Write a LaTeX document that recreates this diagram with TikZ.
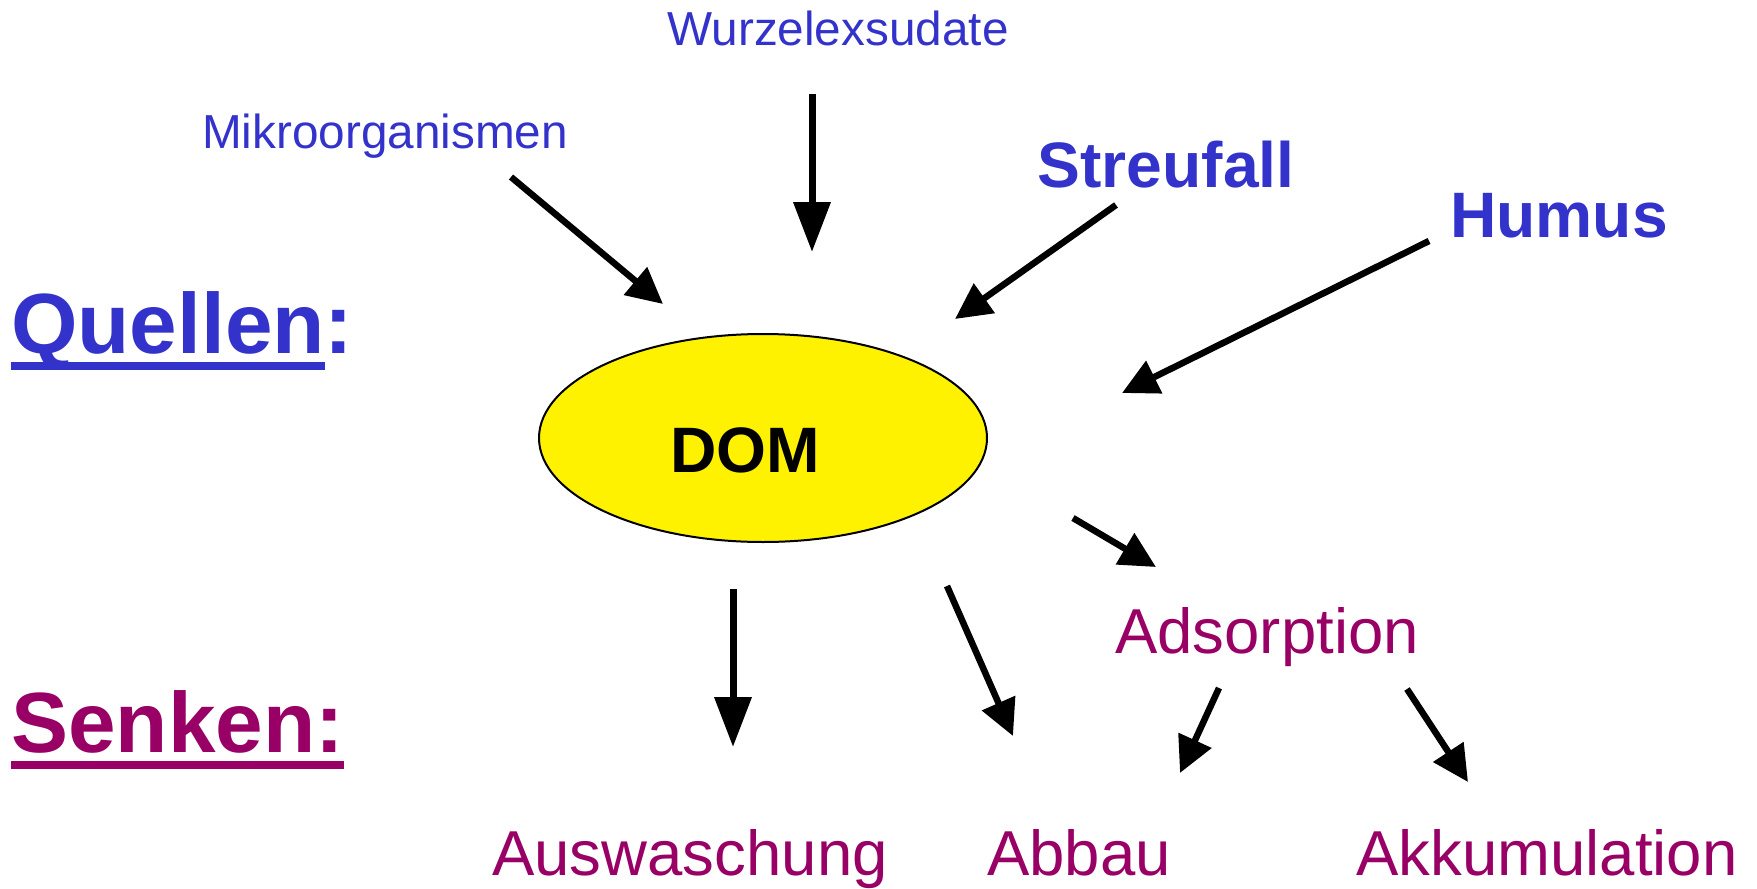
\documentclass[tikz,border=0pt]{standalone}
\usepackage{fontspec}
\setmainfont{Liberation Sans}
\usetikzlibrary{arrows.meta}
\usetikzlibrary{shapes.geometric}
\definecolor{qblue}{HTML}{3333CC}
\definecolor{spurple}{HTML}{990066}
\tikzset{arr/.style = {line width=6.5pt, -{Triangle[length=36pt, width=35pt]}},
         arrlong/.style = {line width=7pt, -{Triangle[length=50pt, width=36pt]}},
         txt/.style = {inner sep=0pt, anchor=base}}
\newcommand{\dickunter}[1]{\setbox0\hbox{#1}\rlap{\rule[-17pt]{\wd0}{8pt}}\box0}
\newcommand{\klein}{\fontsize{47.7}{56}\selectfont}
\newcommand{\mittel}{\fontsize{63.5}{75}\selectfont}
\newcommand{\mittelfett}{\fontsize{64.2}{75}\selectfont\bfseries}
\newcommand{\gross}{\fontsize{85.5}{100}\selectfont\bfseries}

\begin{document}
\begin{tikzpicture}[x=1pt, y=-1pt]
      \useasboundingbox (0, 0) rectangle (1757, 889);

      \node [ellipse, draw, line width=2pt, fill=yellow, minimum width=448pt, minimum height=208pt] (dom) at (763, 438) {};
      \node [txt] (domtext) at (745, 472) {\mittelfett DOM};

      \node [txt, anchor=base west, qblue] (quellen) at (11, 353) {\gross\dickunter{Quellen}:};
      \node [txt, anchor=base west, spurple] (senken) at (11, 752) {\gross\dickunter{Senken:}};

      \node [txt, qblue] (mikro) at (385, 148) {\klein Mikroorganismen};
      \node [txt, qblue] (wurzel) at (838, 45) {\klein Wurzelexsudate};
      \node [txt, qblue] (streu) at (1166, 187) {\mittelfett Streufall};
      \node [txt, qblue] (humus) at (1559, 237) {\mittelfett Humus};

      \node [txt, spurple] (adsorption) at (1267, 653) {\mittel Adsorption};
      \node [txt, spurple] (ausw) at (690, 875) {\mittel Auswaschung};
      \node [txt, spurple] (abbau) at (1079, 875) {\mittel Abbau};
      \node [txt, spurple] (akku) at (1547, 875) {\mittel Akkumulation};

      \coordinate (mikro-a) at (511, 177);
      \coordinate (mikro-b) at (663, 304);
      \coordinate (wurzel-a) at (812, 94);
      \coordinate (wurzel-b) at (812, 252);
      \coordinate (streu-a) at (1116, 205);
      \coordinate (streu-b) at (955, 319);
      \coordinate (humus-a) at (1429, 241);
      \coordinate (humus-b) at (1122, 393);
      \coordinate (dom-ads-a) at (1073, 518);
      \coordinate (dom-ads-b) at (1156, 567);
      \coordinate (ausw-a) at (733, 589);
      \coordinate (ausw-b) at (733, 747);
      \coordinate (abbau-a) at (947, 586);
      \coordinate (abbau-b) at (1013, 736);
      \coordinate (ads-abbau-a) at (1219, 688);
      \coordinate (ads-abbau-b) at (1180, 773);
      \coordinate (ads-akku-a) at (1407, 689);
      \coordinate (ads-akku-b) at (1468, 782);

      \draw [arr] (mikro-a) -- (mikro-b);
      \draw [arrlong] (wurzel-a) -- (wurzel-b);
      \draw [arr] (streu-a) -- (streu-b);
      \draw [arr] (humus-a) -- (humus-b);

      \draw [arr] (dom-ads-a) -- (dom-ads-b);
      \draw [arrlong] (ausw-a) -- (ausw-b);
      \draw [arr] (abbau-a) -- (abbau-b);
      \draw [arr] (ads-abbau-a) -- (ads-abbau-b);
      \draw [arr] (ads-akku-a) -- (ads-akku-b);
    \end{tikzpicture}
\end{document}
